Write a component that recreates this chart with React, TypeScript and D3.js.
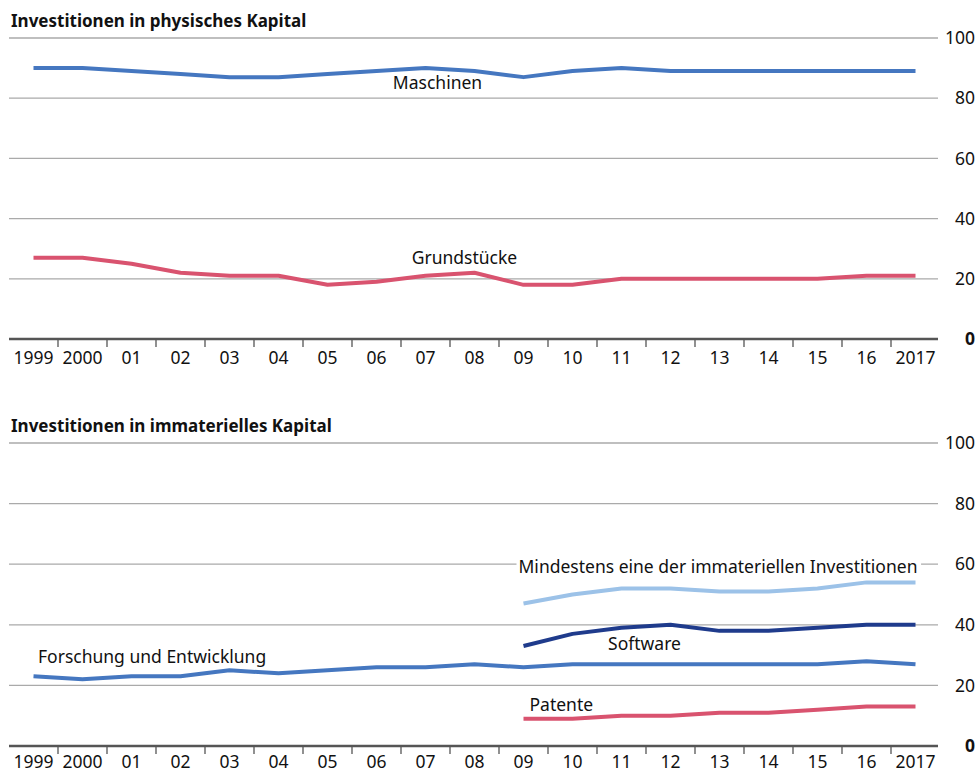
import React from 'react';
import * as d3 from 'd3';

// years on the x axis
const years = ['1999', '2000', '01', '02', '03', '04', '05', '06', '07', '08', '09', '10', '11', '12', '13', '14', '15', '16', '2017'];
const yTicks = [0, 20, 40, 60, 80, 100];

// physisches Kapital
const maschinen = [90, 90, 89, 88, 87, 87, 88, 89, 90, 89, 87, 89, 90, 89, 89, 89, 89, 89, 89];
const grundstuecke = [27, 27, 25, 22, 21, 21, 18, 19, 21, 22, 18, 18, 20, 20, 20, 20, 20, 21, 21];

// immaterielles Kapital (some series start in 2009)
const forschung = [23, 22, 23, 23, 25, 24, 25, 26, 26, 27, 26, 27, 27, 27, 27, 27, 27, 28, 27];
const mindestens = [null, null, null, null, null, null, null, null, null, null, 47, 50, 52, 52, 51, 51, 52, 54, 54];
const software = [null, null, null, null, null, null, null, null, null, null, 33, 37, 39, 40, 38, 38, 39, 40, 40];
const patente = [null, null, null, null, null, null, null, null, null, null, 9, 9, 10, 10, 11, 11, 12, 13, 13];

const BLUE = '#4577c0';
const PINK = '#d9536f';
const LIGHT = '#9cc2e8';
const NAVY = '#1f3b8c';
const FONT = '"Noto Sans", "Open Sans", sans-serif';
const FS = 17.5;

type Series = { name: string; values: (number | null)[]; color: string };
type Label = { text: string; year: string; value: number; dx: number; anchor: string; knockout?: boolean };

const Panel = ({ title, top, bottom, tickDy, series, labels }: { title: string; top: number; bottom: number; tickDy: number; series: Series[]; labels: Label[] }) => {
  const x = d3.scaleBand().domain(years).range([9, 940]);
  const y = d3.scaleLinear().domain([0, 100]).range([bottom, top]);
  const cx = (yr: string) => (x(yr) as number) + x.bandwidth() / 2;

  const line = d3
    .line<number | null>()
    .defined((d) => d != null)
    .x((d, i) => cx(years[i]))
    .y((d) => y(d as number));

  return (
    <g>
      <text x={11} y={top - 11} fontFamily={FONT} fontWeight="bold" fontSize={17} fill="#111">
        {title}
      </text>
      {yTicks.filter((t) => t > 0).map((t) => (
        <line key={t} x1={9} x2={938} y1={y(t)} y2={y(t)} stroke="#aaa" strokeWidth={1.3} />
      ))}
      {yTicks.map((t) => (
        <text key={'l' + t} x={975} y={y(t)} dy="0.35em" textAnchor="end" fontFamily={FONT} fontSize={FS}
          fontWeight={t === 0 ? 'bold' : 'normal'} fill="#111">
          {t}
        </text>
      ))}
      {series.map((s) => (
        <path key={s.name} d={line(s.values) || ''} fill="none" stroke={s.color} strokeWidth={4} strokeLinejoin="round" />
      ))}
      {labels.map((l) => {
        const lx = cx(l.year) + l.dx;
        return (
          <g key={l.text}>
            {l.knockout && (
              <rect x={lx - 2} y={y(l.value) - 16} width={l.text.length * 0.487 * FS + 4} height={20} fill="#fff" />
            )}
            <text x={lx} y={y(l.value)} textAnchor={l.anchor} fontFamily={FONT} fontSize={FS} fill="#111">
              {l.text}
            </text>
          </g>
        );
      })}
      <line x1={9} x2={938} y1={bottom} y2={bottom} stroke="#555" strokeWidth={2.5} />
      {years.slice(1).map((yr) => (
        <line key={'t' + yr} x1={x(yr) as number} x2={x(yr) as number} y1={bottom} y2={bottom + 8} stroke="#555" strokeWidth={1.3} />
      ))}
      {years.map((yr) => (
        <text key={'x' + yr} x={cx(yr)} y={bottom + tickDy} textAnchor="middle" fontFamily={FONT} fontSize={FS} fill="#111">
          {yr}
        </text>
      ))}
    </g>
  );
};

const App = () => {
  return (
    <svg width={978} height={774} style={{ position: 'absolute', left: 0, top: 0, background: '#fff' }}>
      <Panel
        title="Investitionen in physisches Kapital"
        top={38}
        bottom={339}
        tickDy={25}
        series={[
          { name: 'Maschinen', values: maschinen, color: BLUE },
          { name: 'Grundstücke', values: grundstuecke, color: PINK },
        ]}
        labels={[
          { text: 'Maschinen', year: '07', value: 83, dx: 12, anchor: 'middle' },
          { text: 'Grundstücke', year: '07', value: 25, dx: 39, anchor: 'middle' },
        ]}
      />
      <Panel
        title="Investitionen in immaterielles Kapital"
        top={443}
        bottom={746}
        tickDy={22}
        series={[
          { name: 'Forschung', values: forschung, color: BLUE },
          { name: 'Mindestens', values: mindestens, color: LIGHT },
          { name: 'Software', values: software, color: NAVY },
          { name: 'Patente', values: patente, color: PINK },
        ]}
        labels={[
          { text: 'Mindestens eine der immateriellen Investitionen', year: '09', value: 57.1, dx: -5, anchor: 'start', knockout: true },
          { text: 'Software', year: '11', value: 31.7, dx: 23, anchor: 'middle' },
          { text: 'Forschung und Entwicklung', year: '1999', value: 27.3, dx: 4.5, anchor: 'start' },
          { text: 'Patente', year: '09', value: 11.6, dx: 6, anchor: 'start' },
        ]}
      />
    </svg>
  );
};

export default App;
